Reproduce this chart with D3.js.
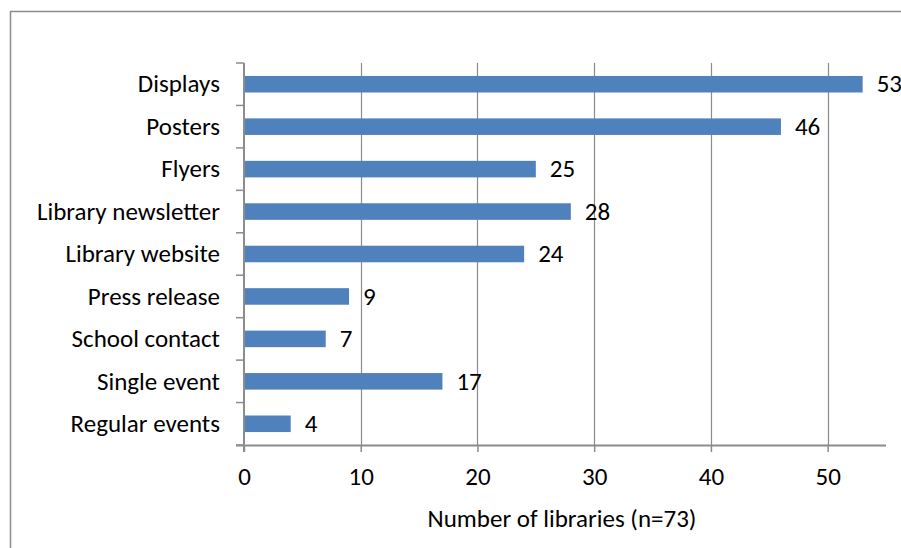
<!DOCTYPE html>
<html>
<head>
<meta charset="utf-8">
<script src="https://cdn.jsdelivr.net/npm/d3@7"></script>
<style>
  html, body { margin: 0; padding: 0; background: #fff; }
  svg { display: block; }
  text { font-family: Carlito, Calibri, "Open Sans", Lato, sans-serif; fill: #000; }
</style>
</head>
<body>
<svg id="chart" width="901" height="548"></svg>
<script>
// Promotion channels and the number of libraries using each
const categories = ["Displays", "Posters", "Flyers", "Library newsletter", "Library website",
                    "Press release", "School contact", "Single event", "Regular events"];
const values = [53, 46, 25, 28, 24, 9, 7, 17, 4];
const xTicks = [0, 10, 20, 30, 40, 50];
const xTitle = "Number of libraries (n=73)";

const svg = d3.select("#chart");
const W = 901, H = 548;
const FS = 25;
const plot = { left: 244, right: 886, top: 63, bottom: 445 };

// outer chart frame
svg.append("rect")
  .attr("x", 10.5).attr("y", 11.5)
  .attr("width", W + 20).attr("height", H + 20)
  .attr("fill", "none").attr("stroke", "#8c8c8c").attr("stroke-width", 1.5);

const x = d3.scaleLinear().domain([0, 55]).range([plot.left, plot.right]);
const y = d3.scaleBand().domain(categories).range([plot.top, plot.bottom])
  .paddingInner(0.61).paddingOuter(0.305);

// vertical gridlines
svg.append("g").selectAll("line")
  .data(xTicks.filter(t => t > 0))
  .join("line")
  .attr("x1", d => Math.round(x(d)) + 0.5).attr("x2", d => Math.round(x(d)) + 0.5)
  .attr("y1", plot.top).attr("y2", plot.bottom)
  .attr("stroke", "#8c8c8c").attr("stroke-width", 1.2);

// bars
svg.append("g").selectAll("rect")
  .data(values)
  .join("rect")
  .attr("x", x(0))
  .attr("y", (d, i) => y(categories[i]))
  .attr("width", d => x(d) - x(0))
  .attr("height", y.bandwidth())
  .attr("fill", "#4f81bd");

// value labels
svg.append("g").selectAll("text")
  .data(values)
  .join("text")
  .attr("x", d => x(d) + 14)
  .attr("y", (d, i) => y(categories[i]) + y.bandwidth() / 2)
  .attr("dy", "0.33em")
  .attr("font-size", FS)
  .text(d => d);

// x axis
const xAxis = d3.axisBottom(x).tickValues(xTicks).tickSize(7).tickFormat(d3.format("d"));
const gx = svg.append("g").attr("transform", `translate(0,${plot.bottom})`).call(xAxis);
gx.select(".domain").attr("d", `M${plot.left - 8},0.5H${plot.right}`)
  .attr("stroke", "#8c8c8c").attr("stroke-width", 2);
gx.selectAll(".tick line").attr("stroke", "#8c8c8c").attr("stroke-width", 1.5);
gx.selectAll(".tick text")
  .attr("font-size", FS).attr("y", 40).attr("dy", 0)
  .style("font-family", null);

// y axis with category separators
const sepY = d3.range(categories.length + 1)
  .map(i => plot.top + i * (plot.bottom - plot.top) / categories.length);
const gy = svg.append("g");
gy.append("line")
  .attr("x1", plot.left).attr("x2", plot.left)
  .attr("y1", plot.top).attr("y2", plot.bottom + 7)
  .attr("stroke", "#8c8c8c").attr("stroke-width", 2);
gy.selectAll("line.sep")
  .data(sepY)
  .join("line").attr("class", "sep")
  .attr("x1", plot.left - 8).attr("x2", plot.left)
  .attr("y1", d => d).attr("y2", d => d)
  .attr("stroke", "#8c8c8c").attr("stroke-width", 1.5);
gy.selectAll("text")
  .data(categories)
  .join("text")
  .attr("x", plot.left - 24)
  .attr("y", d => y(d) + y.bandwidth() / 2)
  .attr("dy", "0.33em")
  .attr("text-anchor", "end")
  .attr("font-size", FS)
  .text(d => d);

// axis title
svg.append("text")
  .attr("x", (plot.left + plot.right) / 2 - 3)
  .attr("y", 527)
  .attr("text-anchor", "middle")
  .attr("font-size", FS)
  .text(xTitle);
</script>
</body>
</html>
